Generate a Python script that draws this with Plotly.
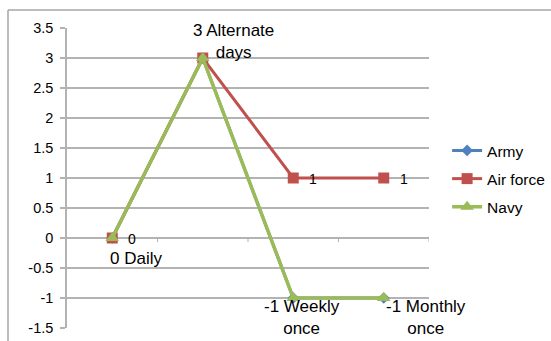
import plotly.graph_objects as go

# Frequency categories (positions 0..3 on the category axis)
cat_index = [0, 1, 2, 3]
freq_names = ["Daily", "Alternate<br>days", "Weekly<br>once", "Monthly<br>once"]

army = [0, 3, -1, -1]
air_force = [0, 3, 1, 1]
navy = [0, 3, -1, -1]

y_ticks = [3.5, 3, 2.5, 2, 1.5, 1, 0.5, 0, -0.5, -1, -1.5]

BLUE = "#4F81BD"
RED = "#C0504D"
GREEN = "#9BBB59"
GRID = "#B3B3B3"
FONT = "Liberation Sans, Arial, sans-serif"

fig = go.Figure()

fig.add_trace(go.Scatter(
    x=cat_index, y=army, name="Army", mode="lines+markers",
    line=dict(color=BLUE, width=3),
    marker=dict(symbol="diamond", size=9, color=BLUE),
    legendgroup="a",
))
fig.add_trace(go.Scatter(
    x=cat_index, y=air_force, name="Air force", mode="lines+markers",
    line=dict(color=RED, width=3),
    marker=dict(symbol="square", size=11, color=RED),
    legendgroup="b",
))
fig.add_trace(go.Scatter(
    x=cat_index, y=navy, name="Navy", mode="lines+markers",
    line=dict(color=GREEN, width=3.5),
    marker=dict(symbol="triangle-up", size=12, color=GREEN),
    legendgroup="c",
))

annotations = []
# Air force value labels, to the right of each marker (the 3 is hidden behind the Navy label)
for i in (0, 2, 3):
    annotations.append(dict(
        x=cat_index[i], y=air_force[i], text=f"{air_force[i]:g}",
        showarrow=False, xanchor="left", yanchor="middle", xshift=14, yshift=-1,
        font=dict(size=14, color="black", family=FONT),
    ))
# Navy value + category labels: (xshift, yshift of the text block's near edge)
navy_shift = [(24, -9), (31, -6), (9, 3), (42, 3)]
for i, (dx, dy) in zip(cat_index, navy_shift):
    above = i == 1
    annotations.append(dict(
        x=cat_index[i], y=navy[i], text=f"{navy[i]:g} {freq_names[i]}",
        showarrow=False, xanchor="center",
        yanchor="bottom" if above else "top",
        xshift=dx, yshift=dy,
        font=dict(size=17, color="black", family=FONT),
    ))

shapes = [
    # outer chart border (top and left)
    dict(type="line", xref="paper", yref="paper", x0=(8 - 67) / 362, x1=1.4,
         y0=(328 - 10) / 300, y1=(328 - 10) / 300, line=dict(color="#A6A6A6", width=1.5)),
    dict(type="line", xref="paper", yref="paper", x0=(8 - 67) / 362, x1=(8 - 67) / 362,
         y0=-0.1, y1=(328 - 10) / 300, line=dict(color="#A6A6A6", width=1.5)),
]
# category tick marks on the zero line
for b in [0.5, 1.5, 2.5, 3.5]:
    shapes.append(dict(type="line", xref="x", yref="y", x0=b, x1=b, y0=0, y1=-0.07,
                       line=dict(color=GRID, width=1), layer="below"))

fig.update_layout(
    width=551, height=341,
    margin=dict(l=67, r=122, t=28, b=13, autoexpand=False),
    paper_bgcolor="white", plot_bgcolor="white",
    font=dict(family=FONT, size=14, color="black"),
    xaxis=dict(range=[-0.5, 3.5], showticklabels=False, showgrid=False,
               zeroline=False, showline=False, ticks="", automargin=False),
    yaxis=dict(range=[-1.5, 3.5], tickvals=y_ticks, ticktext=[f"{v:g}" for v in y_ticks],
               showgrid=True, gridcolor=GRID, gridwidth=1.5,
               zeroline=True, zerolinecolor=GRID, zerolinewidth=1.5,
               showline=True, linecolor=GRID, linewidth=1.5,
               ticks="outside", ticklen=5, tickcolor=GRID, tickwidth=1.5,
               tickfont=dict(size=14.5, family=FONT), ticklabelstandoff=4,
               automargin=False),
    legend=dict(x=1.05, y=0.497, xanchor="left", yanchor="middle",
                font=dict(size=15.5, family=FONT), tracegroupgap=5,
                bgcolor="rgba(0,0,0,0)", itemwidth=30),
    showlegend=True,
    annotations=annotations,
    shapes=shapes,
)

fig.write_html("out.html")
